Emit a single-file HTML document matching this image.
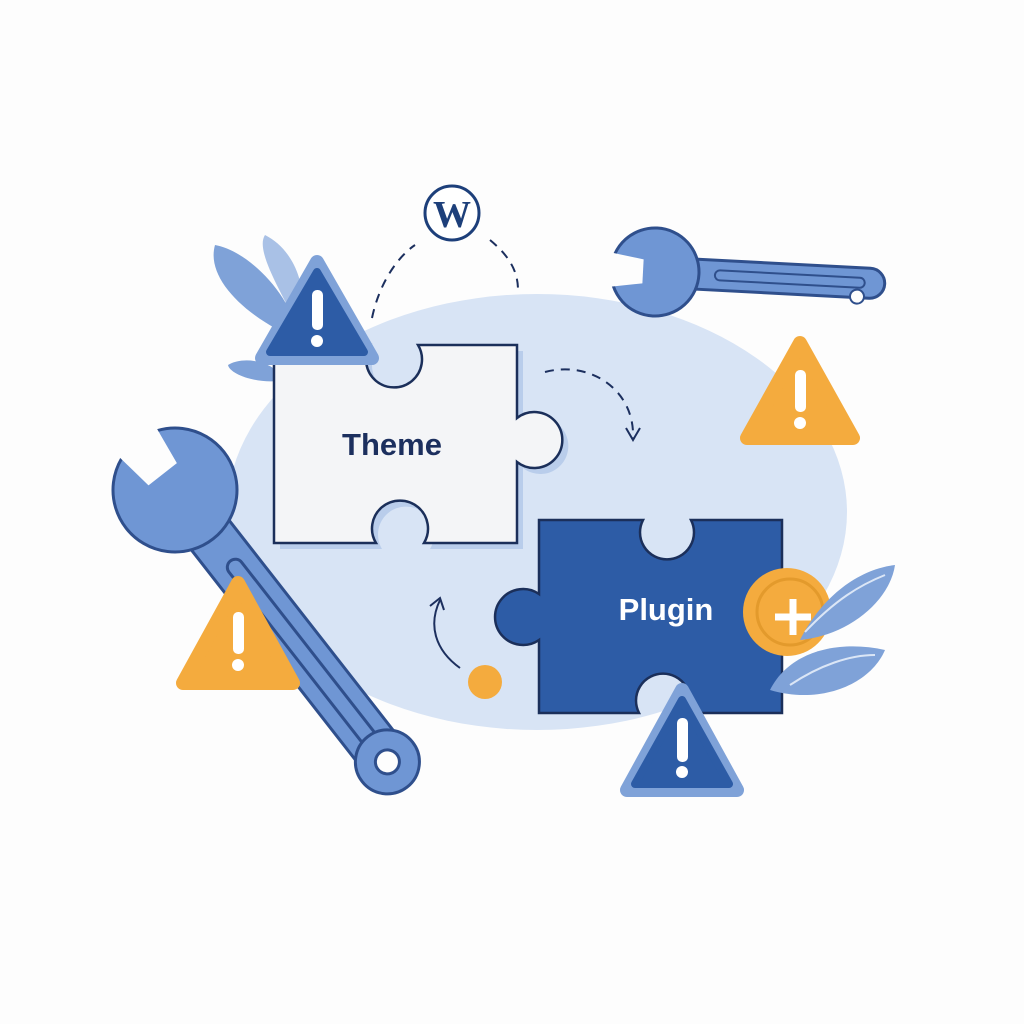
<!DOCTYPE html>
<html><head><style>html,body{margin:0;padding:0;background:#fff}svg{display:block}</style></head>
<body>
<svg width="1024" height="1024" viewBox="0 0 1024 1024" xmlns="http://www.w3.org/2000/svg">
<rect width="1024" height="1024" fill="#fdfdfd"/>
<ellipse cx="537" cy="512" rx="310" ry="218" fill="#d8e4f5"/>

<!-- top-left leaves -->
<g fill="#7fa2d8">
<path d="M300,340 C250,320 205,280 215,245 C245,250 290,290 300,340 Z"/>
<path d="M300,330 C280,290 255,250 265,235 C295,250 310,290 300,330 Z" fill="#a9c1e6"/>
<path d="M285,380 C260,385 230,375 228,365 C245,355 275,362 285,380 Z"/>
</g>

<!-- big left wrench -->
<g transform="translate(175,490) rotate(52)">
<rect x="30" y="-24" width="330" height="48" rx="24" fill="#6f96d4" stroke="#2f4f8c" stroke-width="3"/>
<rect x="90" y="-8" width="230" height="16" rx="8" fill="none" stroke="#2f4f8c" stroke-width="3"/>
<circle cx="0" cy="0" r="62" fill="#6f96d4" stroke="#2f4f8c" stroke-width="3"/>
<path d="M-70,-25 L-20,-18 L-20,18 L-70,25 Z" fill="#fdfdfd"/>
<circle cx="345" cy="0" r="32" fill="#6f96d4" stroke="#2f4f8c" stroke-width="3"/>
<circle cx="345" cy="0" r="12" fill="#fdfdfd" stroke="#2f4f8c" stroke-width="3"/>
</g>

<!-- top right wrench -->
<g transform="translate(655,272) rotate(3)">
<rect x="20" y="-15" width="210" height="30" rx="15" fill="#6f96d4" stroke="#2f4f8c" stroke-width="3"/>
<rect x="60" y="-5" width="150" height="10" rx="5" fill="none" stroke="#2f4f8c" stroke-width="2"/>
<circle cx="0" cy="0" r="44" fill="#6f96d4" stroke="#2f4f8c" stroke-width="3"/>
<path d="M-50,-18 L-12,-12 L-12,12 L-50,18 Z" fill="#fdfdfd"/>
<circle cx="203" cy="14" r="7" fill="#fdfdfd" stroke="#2f4f8c" stroke-width="2"/>
</g>

<!-- dashed arcs -->
<g fill="none" stroke="#1c2f5e" stroke-width="2" stroke-dasharray="9 7">
<path d="M372,318 C380,280 400,255 415,245"/>
<path d="M490,240 C508,255 518,270 518,290"/>
<path d="M545,372 C590,360 635,390 633,438"/>
</g>
<path d="M626,428 L633,440 L640,428" fill="none" stroke="#1c2f5e" stroke-width="2"/>
<path d="M460,668 C435,650 428,625 440,600" fill="none" stroke="#1c2f5e" stroke-width="2"/>
<path d="M430,606 L440,598 L444,610" fill="none" stroke="#1c2f5e" stroke-width="2"/>
<circle cx="485" cy="682" r="17" fill="#f4ab3e"/>

<!-- WP -->
<circle cx="452" cy="213" r="27" fill="#fff" stroke="#1d3f7a" stroke-width="3"/>
<text x="452" y="227" text-anchor="middle" font-family="Liberation Serif, serif" font-size="38" font-weight="bold" fill="#1d3f7a">W</text>

<!-- Theme piece -->
<path d="M280,351 H376 A28 28 0 1 0 424,351 H523 V424 A28 28 0 1 1 523 468 V549 H430 A28 28 0 1 0 382 549 H280 Z" fill="#b9cdeb"/>
<path d="M274,345 H370 A28 28 0 1 0 418,345 H517 V418 A28 28 0 1 1 517 462 V543 H424 A28 28 0 1 0 376 543 H274 Z" fill="#f4f5f7" stroke="#1b2f5a" stroke-width="2.5"/>
<text x="392" y="455" text-anchor="middle" font-family="Liberation Sans, sans-serif" font-size="31" font-weight="bold" fill="#1c2f5e">Theme</text>

<!-- Plugin piece -->
<path d="M539,520 H643 A27 27 0 1 0 691 520 H782 V713 H687 A27 27 0 1 0 639 713 H539 V640 A28 28 0 1 1 539 594 Z" fill="#2d5ca6" stroke="#1b2f5a" stroke-width="2.5"/>
<text x="666" y="620" text-anchor="middle" font-family="Liberation Sans, sans-serif" font-size="31" font-weight="bold" fill="#fff">Plugin</text>

<!-- coin -->
<circle cx="787" cy="612" r="44" fill="#f4ab3e"/>
<circle cx="790" cy="612" r="33" fill="none" stroke="#e39a2c" stroke-width="3"/>
<path d="M793,599 V635 M775,617 H811" stroke="#fff" stroke-width="7"/>

<!-- right leaves -->
<g fill="#7fa2d8">
<path d="M800,640 C820,600 855,570 895,565 C890,600 850,635 800,640 Z"/>
<path d="M770,690 C790,650 840,640 885,650 C870,685 820,705 770,690 Z"/>
</g>
<path d="M805,632 C835,600 860,585 885,575 M790,685 C820,665 850,655 875,655" stroke="#dbe6f6" stroke-width="2" fill="none"/>

<!-- warnings -->
<g stroke-linejoin="round">
<path d="M317,262 L372,358 L262,358 Z" fill="#7fa2d8" stroke="#7fa2d8" stroke-width="14"/>
<path d="M317,272 L364,352 L270,352 Z" fill="#2d5ca6" stroke="#2d5ca6" stroke-width="8"/>
<path d="M800,343 L853,438 L747,438 Z" fill="#f4ab3e" stroke="#f4ab3e" stroke-width="14"/>
<path d="M238,583 L293,683 L183,683 Z" fill="#f4ab3e" stroke="#f4ab3e" stroke-width="14"/>
<path d="M682,690 L737,790 L627,790 Z" fill="#7fa2d8" stroke="#7fa2d8" stroke-width="14"/>
<path d="M682,700 L729,784 L635,784 Z" fill="#2d5ca6" stroke="#2d5ca6" stroke-width="8"/>
</g>
<g fill="#fff">
<rect x="312" y="290" width="11" height="40" rx="5"/><circle cx="317" cy="341" r="6"/>
<rect x="795" y="370" width="11" height="42" rx="5"/><circle cx="800" cy="423" r="6"/>
<rect x="233" y="612" width="11" height="42" rx="5"/><circle cx="238" cy="665" r="6"/>
<rect x="677" y="718" width="11" height="44" rx="5"/><circle cx="682" cy="772" r="6"/>
</g>
</svg>
</body></html>
